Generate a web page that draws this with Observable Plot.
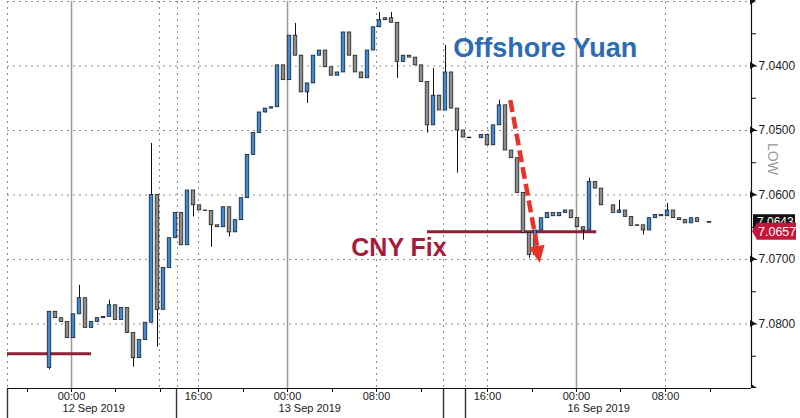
<!DOCTYPE html>
<html><head><meta charset="utf-8">
<script src="https://cdn.jsdelivr.net/npm/d3@7"></script>
<script src="https://cdn.jsdelivr.net/npm/@observablehq/plot@0.6"></script>
<style>html,body{margin:0;padding:0;background:#fff;} svg{display:block}</style>
</head><body><div id="chart"></div>
<script>
// ---- data (bar index = intraday trading slot) ----
const firstIndex = 7;
const firstOpen = 7.0868;
const closes = [
  7.0781,7.0791,7.0797,7.0822,7.0785,7.0760,7.0806,7.0797,7.0791,7.0789,
  7.0771,7.0794,7.0775,7.0814,7.0853,7.0825,7.0798,7.0600,7.0778,7.0713,
  7.0667,7.0628,7.0678,7.0593,7.0616,7.0624,7.0625,7.0647,7.0650,7.0619,
  7.0658,7.0639,7.0605,7.0538,7.0504,7.0472,7.0466,7.0464,7.0399,7.0422,
  7.0353,7.0384,7.0441,7.0427,7.0384,7.0376,7.0402,7.0415,7.0410,7.0348,
  7.0384,7.0410,7.0419,7.0376,7.0340,7.0329,7.0326,7.0333,7.0394,7.0384,
  7.0387,7.0399,7.0425,7.0492,7.0446,7.0469,7.0410,7.0466,7.0500,7.0511,
  7.0512,7.0512,7.0507,7.0523,7.0492,7.0461,7.0531,7.0543,7.0597,7.0659,
  7.0693,7.0655,7.0636,7.0628,7.0633,7.0628,7.0624,7.0636,7.0650,7.0655,
  7.0580,7.0590,7.0616,7.0616,7.0628,7.0624,7.0634,7.0648,7.0647,7.0655,
  7.0636,7.0631,7.0633,7.0624,7.0636,7.0639,7.0644,7.0636,7.0642,7.0642,
  7.0643
];
const wickIndex = [7,12,17,21,24,25,31,34,37,43,48,50,62,64,65,70,71,73,75,82,87,96,97,102,106,110];
const wickPrice = [7.0871,7.0740,7.0763,7.0867,7.0520,7.0836,7.0634,7.0681,7.0665,7.0473,7.0334,7.0458,7.0317,7.0317,7.0419,7.0504,7.0404,7.0368,7.0566,7.0453,7.0698,7.0670,7.0574,7.0608,7.0662,7.0613];

const fixFrom = [0, 70];
const fixTo = [14, 98.2];
const fixPrice = [7.0846, 7.0657];

const timeTickIdx = [10.67, 31.83, 46.67, 61.5, 80, 94.83, 109.67];
const timeTickLabels = ["00:00","16:00","00:00","08:00","16:00","00:00","08:00"];
const minorTickIdx = [3.33, 18, 25.5, 39.33, 54.17, 69, 87.5, 102.17, 117.17];
const dayStartIdx = [10.67, 46.67, 94.83];
const dayLabels = ["12 Sep 2019", "13 Sep 2019", "16 Sep 2019"];
const dottedIdx = [0, 25.33, 28.33, 31.83, 61.5, 72.67, 76.33, 80, 109.67];
const sessionMarkIdx = [0, 28.17, 72.67, 76.33];

const yGrid = [7.03, 7.04, 7.05, 7.06, 7.07, 7.08];
const yLabelTicks = [7.04, 7.05, 7.06, 7.07, 7.08];
const yMinorTicks = [7.035, 7.045, 7.055, 7.065, 7.075, 7.085];

const lastPrice = 7.0643;
const fixLabelPrice = 7.0657;

const annoText = ["Offshore Yuan", "CNY Fix"];
const annoX = [74.3, 73.2];
const annoY = [7.0373, 7.0682];
const arrowFrom = [83.8, 7.0453];
const arrowTo = [88.8, 7.0706];

// ---- build candles ----
const candles = closes.map((c, k) => {
  const open = k === 0 ? firstOpen : closes[k - 1];
  const i = firstIndex + k;
  let hi = Math.max(open, c), lo = Math.min(open, c);
  wickIndex.forEach((w, j) => { if (w === i) { hi = Math.max(hi, wickPrice[j]); lo = Math.min(lo, wickPrice[j]); } });
  return {i, open, close: c, hi, lo};
});
const fixes = fixPrice.map((p, k) => ({from: fixFrom[k], to: fixTo[k], price: p}));
const annos = annoText.map((t, k) => ({text: t, x: annoX[k], y: annoY[k]}));

const font = "'Liberation Sans', Arial, sans-serif";

const plot = Plot.plot({
  width: 800, height: 418,
  marginLeft: 7, marginRight: 49, marginTop: 1, marginBottom: 30,
  style: {fontFamily: font, background: "#fff", color: "#111", overflow: "visible"},
  x: {domain: [0, 124], label: null},
  y: {domain: [7.03, 7.09], reverse: true, label: null},
  marks: [
    Plot.ruleY(yGrid, {stroke: "#8a8a8a", strokeDasharray: "2,4"}),
    Plot.ruleX(dottedIdx, {stroke: "#8a8a8a", strokeDasharray: "2,4"}),
    Plot.ruleX(dayStartIdx, {stroke: "#9c9c9c", strokeWidth: 1.5}),
    Plot.ruleX(sessionMarkIdx, {y1: 7.09, y2: 7.0952, stroke: "#333", strokeWidth: 1.4}),
    Plot.ruleY(fixes, {y: "price", x1: "from", x2: "to", stroke: "#8e1f36", strokeWidth: 3}),
    Plot.ruleX(candles, {x: "i", y1: "lo", y2: "hi", stroke: "#111", strokeWidth: 1}),
    Plot.rect(candles, {
      x1: d => d.i - 0.3, x2: d => d.i + 0.3, y1: "open", y2: "close",
      fill: d => d.close < d.open ? "#3b8ad8" : "#8c8c8c",
      stroke: "#111", strokeWidth: 0.7
    }),
    Plot.ruleY([7.09], {stroke: "#111", strokeWidth: 1}),
    Plot.ruleX([124], {stroke: "#111", strokeWidth: 1.2}),
    Plot.axisX({ticks: minorTickIdx, tickSize: 4, tickFormat: () => "", stroke: "#111"}),
    Plot.axisX({ticks: timeTickIdx, tickSize: 4, tickPadding: 0,
      tickFormat: d => timeTickLabels[timeTickIdx.indexOf(d)], fontSize: 11, fill: "#222", stroke: "#111"}),
    Plot.text(dayLabels.map((t, k) => ({t, x: dayStartIdx[k]})), {
      x: "x", text: "t", frameAnchor: "bottom", dy: 23, dx: -9, textAnchor: "start",
      fontSize: 11, fill: "#222"
    }),
    Plot.axisY({anchor: "right", ticks: yMinorTicks, tickSize: 4, tickFormat: () => "", stroke: "#111"}),
    Plot.axisY({anchor: "right", ticks: yLabelTicks, tickSize: 5, tickPadding: 2,
      tickFormat: d3.format(".4f"), fontSize: 12, fill: "#222", stroke: "#111"}),
    Plot.link([{x1: arrowFrom[0], y1: arrowFrom[1], x2: arrowTo[0], y2: arrowTo[1]}], {
      x1: "x1", y1: "y1", x2: d => d.x1 + (d.x2 - d.x1) * 0.9, y2: d => d.y1 + (d.y2 - d.y1) * 0.9,
      stroke: "#e8332b", strokeWidth: 4.5, strokeDasharray: "12,5"
    }),
    Plot.text(annos.slice(0, 1), {x: "x", y: "y", text: "text", textAnchor: "start",
      fontSize: 27, fontWeight: "bold", fill: "#2f6bb2"}),
    Plot.text(annos.slice(1), {x: "x", y: "y", text: "text", textAnchor: "end",
      fontSize: 25, fontWeight: "bold", fill: "#a51d3c"})
  ]
});
document.getElementById("chart").appendChild(plot);

// ---- decorations using the plot's scales ----
const sx = plot.scale("x"), sy = plot.scale("y");
const svg = d3.select(plot);
// arrow head
{
  const x0 = sx.apply(arrowFrom[0]), y0 = sy.apply(arrowFrom[1]);
  const x1 = sx.apply(arrowTo[0]), y1 = sy.apply(arrowTo[1]);
  const L = Math.hypot(x1 - x0, y1 - y0), ux = (x1 - x0) / L, uy = (y1 - y0) / L;
  const hl = 17, hw = 8;
  const bx = x1 - ux * hl, by = y1 - uy * hl;
  svg.append("path")
    .attr("d", `M${x1},${y1}L${bx - uy * hw},${by + ux * hw}L${bx + uy * hw},${by - ux * hw}Z`)
    .attr("fill", "#e8332b");
}
// axis arrow markers
const xr = sx.apply(124);
yGrid.forEach(v => {
  const y = sy.apply(v);
  svg.append("path").attr("d", `M${xr - 1},${y - 3.5}L${xr + 5},${y}L${xr - 1},${y + 3.5}Z`).attr("fill", "#111");
});
svg.append("path").attr("d", `M${xr},${sy.apply(7.09) - 4}L${xr + 6},${sy.apply(7.09)}L${xr},${sy.apply(7.09)}Z`).attr("fill", "#111");
// price boxes
{
  const yl = sy.apply(lastPrice);
  svg.append("rect").attr("x", xr + 2).attr("y", yl - 8).attr("width", 42).attr("height", 16).attr("fill", "#111");
  svg.append("text").attr("x", xr + 6).attr("y", yl + 4).attr("fill", "#fff").attr("font-size", 12)
    .attr("text-anchor", "start").attr("font-family", font).text(d3.format(".4f")(lastPrice));
  const yf = sy.apply(fixLabelPrice);
  svg.append("path").attr("d", `M${xr + 1},${yf}L${xr + 6},${yf - 8.5}L${xr + 45},${yf - 8.5}L${xr + 45},${yf + 8.5}L${xr + 6},${yf + 8.5}Z`)
    .attr("fill", "#c4163a");
  svg.append("text").attr("x", xr + 7).attr("y", yf + 4.5).attr("fill", "#fff").attr("font-size", 12.5)
    .attr("text-anchor", "start").attr("font-family", font).text(d3.format(".4f")(fixLabelPrice));
  // faint legend text
  const ylow = sy.apply(7.0545);
  svg.append("text").attr("transform", `translate(${xr + 17},${ylow}) rotate(90)`)
    .attr("fill", "#9a9a9a").attr("font-size", 14).attr("font-family", font).attr("text-anchor", "middle").text("LOW");
}
</script>
</body></html>
